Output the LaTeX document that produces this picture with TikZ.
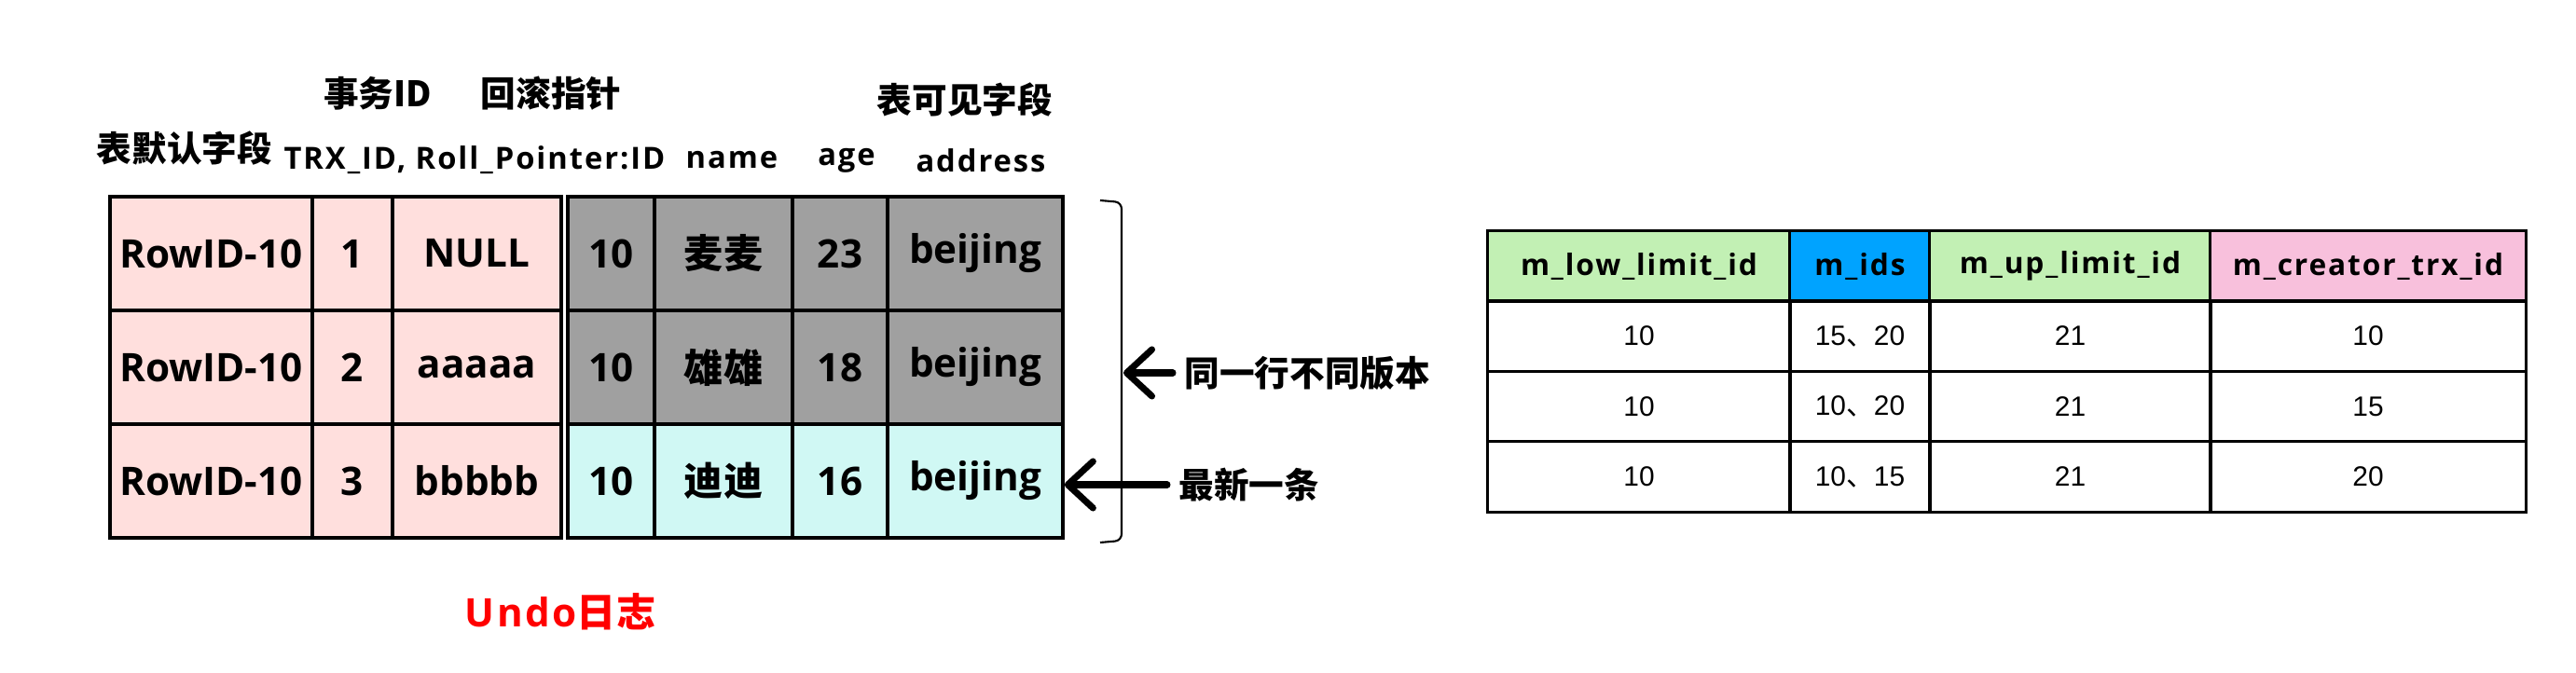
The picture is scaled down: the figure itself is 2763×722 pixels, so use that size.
\documentclass[tikz,border=0pt]{standalone}
\usepackage{fontspec}
\setmainfont{Open Sans}
\newfontfamily\cjk{Noto Sans CJK SC}
\newfontfamily\wide{Open Sans}[LetterSpace=6]
\newfontfamily\arialf{Liberation Sans}
\usetikzlibrary{arrows.meta}

\definecolor{keypink}{RGB}{255,223,221}
\definecolor{oldgray}{RGB}{160,160,160}
\definecolor{newcyan}{RGB}{208,248,244}
\definecolor{limgreen}{RGB}{194,240,180}
\definecolor{idsblue}{RGB}{0,163,255}
\definecolor{trxpink}{RGB}{248,192,220}
\definecolor{undored}{RGB}{255,0,0}

\begin{document}
\begin{tikzpicture}[x=0.01cm, y=-0.01cm,
    cell/.style={rectangle, draw, line width=1pt, inner sep=0pt, minimum height=1.22cm, font=\fontsize{12}{14}\selectfont\bfseries},
    rvcell/.style={rectangle, draw, line width=0.85pt, inner sep=0pt, minimum height=0.75cm, font=\fontsize{8.5}{10}\selectfont\arialf},
    rhcell/.style={rvcell, font=\fontsize{9}{11}\selectfont\wide\bfseries},
    lbl/.style={inner sep=0pt, font=\fontsize{10.7}{12}\selectfont\cjk\bfseries},
    field/.style={inner sep=0pt, font=\fontsize{9.3}{11}\selectfont\wide\bfseries},
    arrow/.style={-{Straight Barb[length=2.7mm, width=5mm, round]}, line width=2pt, line cap=round}
]
\useasboundingbox (0,0) rectangle (2763,722);

% column captions
\node[lbl] (defcap) at (198,159) {表默认字段};
\node[lbl] (trxcap) at (405,100) {事务ID};
\node[lbl] (ptrcap) at (591,100) {回滚指针};
\node[lbl] (viscap) at (1035,107) {表可见字段};
\node[field] (trxptr) at (509,172) {TRX\_ID, Roll\_Pointer:ID};
\node[field] (namef) at (785,172) {name};
\node[field] (agef) at (908,172) {age};
\node[field] (addrf) at (1052,172) {address};

% undo log rows
\node[cell, fill=keypink, minimum width=2.17cm] (r1id) at (226.5,272) {RowID-10};
\node[cell, fill=keypink, minimum width=0.86cm] (r1trx) at (378,272) {1};
\node[cell, fill=keypink, minimum width=1.81cm] (r1ptr) at (511.5,272) {NULL};
\node[cell, fill=oldgray, minimum width=0.93cm] (r1no) at (655.5,272) {10};
\node[cell, fill=oldgray, minimum width=1.48cm] (r1name) at (776,272) {\cjk 麦麦};
\node[cell, fill=oldgray, minimum width=1.02cm] (r1age) at (901,272) {23};
\node[cell, fill=oldgray, minimum width=1.88cm] (r1addr) at (1046,272) {beijing};

\node[cell, fill=keypink, minimum width=2.17cm] (r2id) at (226.5,394) {RowID-10};
\node[cell, fill=keypink, minimum width=0.86cm] (r2trx) at (378,394) {2};
\node[cell, fill=keypink, minimum width=1.81cm] (r2ptr) at (511.5,394) {aaaaa};
\node[cell, fill=oldgray, minimum width=0.93cm] (r2no) at (655.5,394) {10};
\node[cell, fill=oldgray, minimum width=1.48cm] (r2name) at (776,394) {\cjk 雄雄};
\node[cell, fill=oldgray, minimum width=1.02cm] (r2age) at (901,394) {18};
\node[cell, fill=oldgray, minimum width=1.88cm] (r2addr) at (1046,394) {beijing};

\node[cell, fill=keypink, minimum width=2.17cm] (r3id) at (226.5,516) {RowID-10};
\node[cell, fill=keypink, minimum width=0.86cm] (r3trx) at (378,516) {3};
\node[cell, fill=keypink, minimum width=1.81cm] (r3ptr) at (511.5,516) {bbbbb};
\node[cell, fill=newcyan, minimum width=0.93cm] (r3no) at (655.5,516) {10};
\node[cell, fill=newcyan, minimum width=1.48cm] (r3name) at (776,516) {\cjk 迪迪};
\node[cell, fill=newcyan, minimum width=1.02cm] (r3age) at (901,516) {16};
\node[cell, fill=newcyan, minimum width=1.88cm] (r3addr) at (1046,516) {beijing};

\node[inner sep=0pt, text=undored, font=\fontsize{12}{14}\selectfont\wide\bfseries] (undo) at (601,656) {Undo{\cjk 日志}};

% versions bracket and pointers
\draw[line width=0.6pt, rounded corners=2pt] (1180,215) -- (1203,217) -- (1203,580) -- (1180,582);
\coordinate (brk) at (1205,398);
\node[lbl, anchor=west] (samerow) at (1270,400) {同一行不同版本};
\node[lbl, anchor=west] (latest) at (1264,520) {最新一条};
\draw[arrow] ([xshift=-0.12cm]samerow.west) -- (brk |- samerow.west);
\draw[arrow] ([xshift=-0.12cm]latest.west) -- (r3addr.east |- latest.west);

% read view
\node[rhcell, fill=limgreen, minimum width=3.24cm] (hlow) at (1758,285.5) {m\_low\_limit\_id};
\node[rhcell, fill=idsblue, minimum width=1.50cm] (hids) at (1995,285.5) {m\_ids};
\node[rhcell, fill=limgreen, minimum width=3.01cm] (hup) at (2220.5,285.5) {m\_up\_limit\_id};
\node[rhcell, fill=trxpink, minimum width=3.38cm] (hcreator) at (2540,285.5) {m\_creator\_trx\_id};

\node[rvcell, minimum width=3.24cm] (v1low) at (1758,360.5) {10};
\node[rvcell, minimum width=1.50cm] (v1ids) at (1995,360.5) {15{\cjk 、}20};
\node[rvcell, minimum width=3.01cm] (v1up) at (2220.5,360.5) {21};
\node[rvcell, minimum width=3.38cm] (v1creator) at (2540,360.5) {10};

\node[rvcell, minimum width=3.24cm] (v2low) at (1758,436) {10};
\node[rvcell, minimum width=1.50cm] (v2ids) at (1995,436) {10{\cjk 、}20};
\node[rvcell, minimum width=3.01cm] (v2up) at (2220.5,436) {21};
\node[rvcell, minimum width=3.38cm] (v2creator) at (2540,436) {15};

\node[rvcell, minimum width=3.24cm] (v3low) at (1758,511.5) {10};
\node[rvcell, minimum width=1.50cm] (v3ids) at (1995,511.5) {10{\cjk 、}15};
\node[rvcell, minimum width=3.01cm] (v3up) at (2220.5,511.5) {21};
\node[rvcell, minimum width=3.38cm] (v3creator) at (2540,511.5) {20};
\end{tikzpicture}
\end{document}
